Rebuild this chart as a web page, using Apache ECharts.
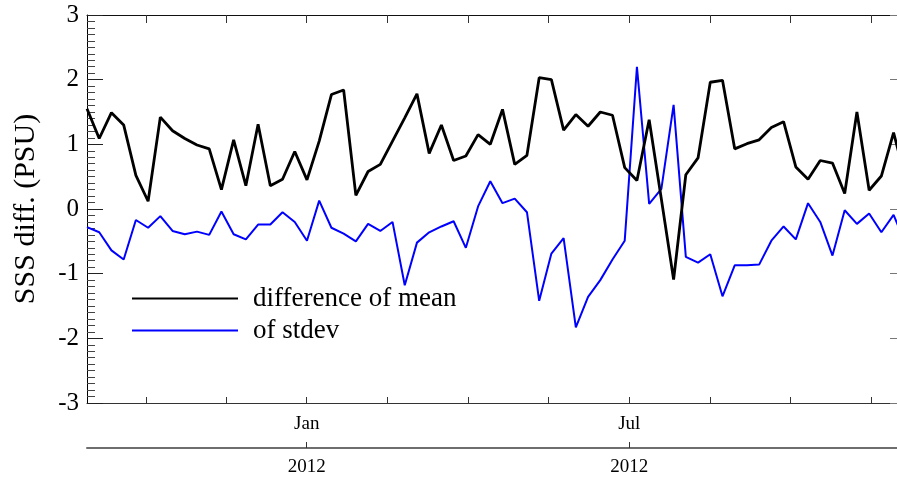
<!DOCTYPE html>
<html>
<head>
<meta charset="utf-8">
<script src="https://cdn.jsdelivr.net/npm/echarts@6/dist/echarts.min.js"></script>
<style>
html,body{margin:0;padding:0;background:#fff;}
#chart{width:897px;height:477px;}
</style>
</head>
<body>
<div id="chart"></div>
<script>
// weekly samples (week index from the left edge of the plot)
const diffMean = [1.55,1.09,1.49,1.30,0.52,0.12,1.42,1.21,1.09,0.99,0.93,0.30,1.07,0.36,1.31,0.36,0.46,0.89,0.45,1.05,
  1.77,1.84,0.21,0.58,0.69,1.05,1.41,1.78,0.86,1.30,0.75,0.82,1.15,1.00,1.54,0.69,0.83,2.03,2.00,1.22,
  1.46,1.28,1.50,1.45,0.64,0.44,1.38,0.15,-1.09,0.53,0.79,1.96,1.99,0.93,1.01,1.07,1.26,1.35,0.65,0.46,
  0.75,0.71,0.24,1.50,0.29,0.51,1.18,0.45];
const diffStdev = [-0.28,-0.36,-0.64,-0.78,-0.17,-0.29,-0.11,-0.34,-0.39,-0.35,-0.40,-0.04,-0.39,-0.47,-0.24,-0.24,-0.05,-0.20,-0.49,0.13,
  -0.29,-0.38,-0.50,-0.23,-0.34,-0.20,-1.18,-0.52,-0.36,-0.27,-0.19,-0.60,0.04,0.43,0.09,0.16,-0.05,-1.42,-0.69,-0.45,
  -1.83,-1.36,-1.10,-0.78,-0.49,2.20,0.08,0.31,1.61,-0.74,-0.83,-0.70,-1.35,-0.87,-0.87,-0.86,-0.49,-0.27,-0.47,0.09,
  -0.20,-0.72,-0.02,-0.23,-0.07,-0.36,-0.09,-0.55];
const seriesNames = ['difference of mean', 'of stdev'];
// x-axis tick positions (in weeks) and labels
const tickWeeks = [4.86, 11.43, 17.98, 24.57, 31.17, 37.78, 44.37, 50.96, 57.55, 64.15];
const monthTickWeeks = [17.98, 44.37];
const monthLabels = ['Jan', 'Jul'];
const yearLabels = ['2012', '2012'];

const FONT = 'Liberation Serif';
const xMin = 0, xMax = 66.28;

function toPairs(arr){ return arr.map((v,i)=>[i, v]); }
function labelFor(list){
  return function(v){
    for (let k=0;k<monthTickWeeks.length;k++){ if (Math.abs(v-monthTickWeeks[k])<0.01) return list[k]; }
    return '';
  };
}

const chart = echarts.init(document.getElementById('chart'), null, {renderer:'canvas'});
chart.setOption({
  animation:false,
  backgroundColor:'#fff',
  grid:{left:87, top:15, right:0, bottom:73, containLabel:false},
  legend:{
    orient:'vertical', left:132, top:285, padding:0,
    itemWidth:106, itemHeight:14, itemGap:5,
    data:seriesNames,
    icon:'path://M0,0 L1,0 L1,0.019 L0,0.019 Z',
    textStyle:{fontFamily:FONT, fontSize:27, lineHeight:26, color:'#000', padding:[0,0,0,10]},
    selectedMode:false
  },
  xAxis:[
    {type:'value', min:xMin, max:xMax, position:'bottom', gridIndex:0,
     axisLine:{show:true, onZero:false, lineStyle:{color:'#333', width:1}},
     axisTick:{show:true, inside:true, length:6, customValues:tickWeeks, lineStyle:{color:'#333'}},
     axisLabel:{show:true, customValues:monthTickWeeks, formatter:labelFor(monthLabels), margin:12,
       fontFamily:FONT, fontSize:19, color:'#000'},
     splitLine:{show:false}},
    {type:'value', min:xMin, max:xMax, position:'top', gridIndex:0,
     axisLine:{show:true, onZero:false, lineStyle:{color:'#111', width:1}},
     axisTick:{show:true, inside:true, length:8, customValues:tickWeeks, lineStyle:{color:'#333'}},
     axisLabel:{show:false}, splitLine:{show:false}},
    {type:'value', min:xMin, max:xMax, position:'bottom', offset:45, gridIndex:0,
     axisLine:{show:true, onZero:false, lineStyle:{color:'#6e6e6e', width:2}},
     axisTick:{show:true, inside:true, length:6, customValues:monthTickWeeks, lineStyle:{color:'#333'}},
     axisLabel:{show:true, customValues:monthTickWeeks, formatter:labelFor(yearLabels), margin:10,
       fontFamily:FONT, fontSize:19, color:'#000'},
     splitLine:{show:false}}
  ],
  yAxis:[
    {type:'value', min:-3, max:3, interval:1, position:'left',
     name:'SSS diff. (PSU)', nameLocation:'middle', nameRotate:90, nameGap:46,
     nameTextStyle:{fontFamily:FONT, fontSize:30, color:'#000'},
     axisLine:{show:true, onZero:false, lineStyle:{color:'#000', width:1}},
     axisTick:{show:true, inside:true, length:16, lineStyle:{color:'#222'}},
     minorTick:{show:true, splitNumber:10, length:8, lineStyle:{color:'#444'}},
     axisLabel:{margin:8, fontFamily:FONT, fontSize:25, color:'#000'},
     splitLine:{show:false}, minorSplitLine:{show:false}},
    {type:'value', min:-3, max:3, interval:1, position:'right',
     axisLine:{show:true, onZero:false, lineStyle:{color:'#000', width:1}},
     axisTick:{show:true, inside:true, length:7, lineStyle:{color:'#777'}},
     axisLabel:{show:false}, splitLine:{show:false}}
  ],
  series:[
    {name:seriesNames[1], type:'line', xAxisIndex:0, yAxisIndex:0, data:toPairs(diffStdev),
     showSymbol:false, symbol:'none', clip:true, z:2,
     lineStyle:{color:'#0000ff', width:2}, itemStyle:{color:'#0000ff'}},
    {name:seriesNames[0], type:'line', xAxisIndex:0, yAxisIndex:0, data:toPairs(diffMean),
     showSymbol:false, symbol:'none', clip:true, z:3,
     lineStyle:{color:'#000', width:2.8}, itemStyle:{color:'#000'}}
  ]
});
</script>
</body>
</html>
